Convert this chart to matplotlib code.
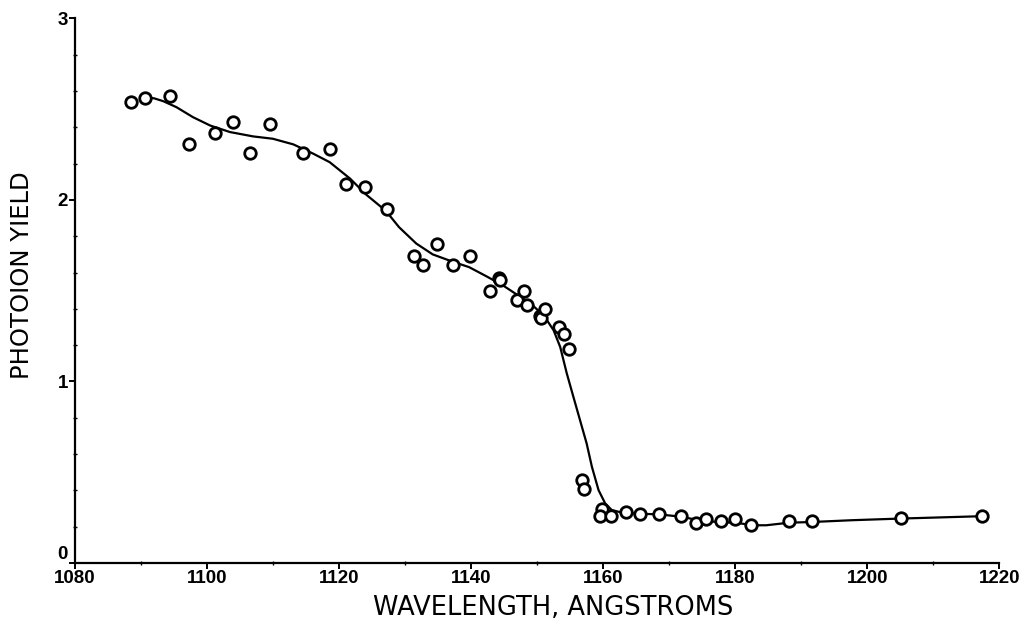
import matplotlib
matplotlib.use("Agg")
import matplotlib.pyplot as plt
from matplotlib.ticker import MultipleLocator

# Measured data points (wavelength in Angstroms, photoion yield)
wl_pts = [1088.5, 1090.6, 1094.4, 1097.3, 1101.2, 1104.0, 1106.6, 1109.6,
          1114.6, 1118.6, 1121.0, 1123.9, 1127.3, 1131.3, 1132.8, 1134.9,
          1137.3, 1139.8, 1142.9, 1144.3, 1144.4, 1146.9, 1148.0, 1148.4,
          1150.5, 1150.6, 1151.2, 1153.3, 1154.1, 1154.9, 1156.8, 1157.1,
          1159.8, 1159.5, 1161.2, 1163.5, 1165.6, 1168.4, 1171.8, 1174.1,
          1175.6, 1177.9, 1180.0, 1182.4, 1188.1, 1191.6, 1205.1, 1217.4]
yield_pts = [2.54, 2.56, 2.57, 2.31, 2.37, 2.43, 2.26, 2.42,
             2.26, 2.28, 2.09, 2.07, 1.95, 1.69, 1.64, 1.76,
             1.64, 1.69, 1.50, 1.57, 1.56, 1.45, 1.50, 1.42,
             1.36, 1.35, 1.40, 1.30, 1.26, 1.18, 0.46, 0.41,
             0.30, 0.26, 0.26, 0.28, 0.27, 0.27, 0.26, 0.22,
             0.24, 0.23, 0.24, 0.21, 0.23, 0.23, 0.25, 0.26]

# Smooth fitted curve
wl_fit = [1090.6, 1092.0, 1093.4, 1095.4, 1097.9, 1100.5, 1103.5, 1107.0,
          1110.0, 1113.1, 1116.1, 1118.6, 1121.7, 1124.1, 1127.1, 1129.1,
          1131.7, 1134.2, 1137.2, 1139.7, 1142.3, 1144.8, 1147.3, 1149.3,
          1150.5, 1151.5, 1152.5, 1153.5, 1154.5, 1155.5, 1156.5, 1157.5,
          1158.3, 1159.3, 1160.3, 1161.3, 1162.6, 1165.0, 1168.5, 1171.8,
          1174.6, 1177.6, 1180.1, 1182.7, 1184.7, 1188.1, 1191.6, 1197.8,
          1205.1, 1217.4]
yield_fit = [2.563, 2.560, 2.544, 2.511, 2.456, 2.41, 2.374, 2.35,
             2.337, 2.306, 2.255, 2.208, 2.117, 2.03, 1.94, 1.85,
             1.76, 1.70, 1.66, 1.63, 1.58, 1.53, 1.47, 1.42,
             1.38, 1.337, 1.282, 1.19, 1.044, 0.915, 0.787, 0.659,
             0.53, 0.402, 0.329, 0.292, 0.280, 0.272, 0.268, 0.255,
             0.235, 0.225, 0.222, 0.208, 0.208, 0.222, 0.226, 0.236,
             0.245, 0.258]

x_ticks = [1080, 1100, 1120, 1140, 1160, 1180, 1200, 1220]
y_ticks = [0, 1, 2, 3]

fig = plt.figure(figsize=(10.24, 6.26), dpi=100)
ax = fig.add_axes([0.073, 0.1006, 0.903, 0.870])

ax.plot(wl_fit, yield_fit, color="black", lw=1.6, zorder=2)
ax.plot(wl_pts, yield_pts, linestyle="none", marker="o", ms=8.3,
        mfc="white", mec="black", mew=2.0, zorder=3)

ax.set_xlim(1080, 1220)
ax.set_ylim(0, 3)
ax.set_xticks(x_ticks)
ax.set_yticks(y_ticks)
ax.xaxis.set_minor_locator(MultipleLocator(10))
ax.yaxis.set_minor_locator(MultipleLocator(0.2))

for s in ["top", "right"]:
    ax.spines[s].set_visible(False)
for s in ["left", "bottom"]:
    ax.spines[s].set_linewidth(1.6)

ax.tick_params(axis="both", which="major", direction="out", length=4,
               width=1.4, pad=1)
ax.tick_params(axis="both", which="minor", direction="inout", length=3,
               width=1.0)

tick_font = dict(family=["Liberation Sans", "DejaVu Sans"],
                 weight="bold", size=13.5)
ax.set_xticklabels([str(t) for t in x_ticks], fontdict=tick_font)
ylabels = ax.set_yticklabels([str(t) for t in y_ticks], fontdict=tick_font)
ylabels[0].set_verticalalignment("bottom")

fig.text(553 / 1024, 1 - 608 / 626, "WAVELENGTH, ANGSTROMS", fontsize=18.5,
         ha="center", va="center", family=["DejaVu Sans"])
fig.text(22 / 1024, 1 - 275 / 626, "PHOTOION YIELD", fontsize=17.5,
         rotation=90, ha="center", va="center", family=["DejaVu Sans"])

fig.savefig("out.png", dpi=100)
